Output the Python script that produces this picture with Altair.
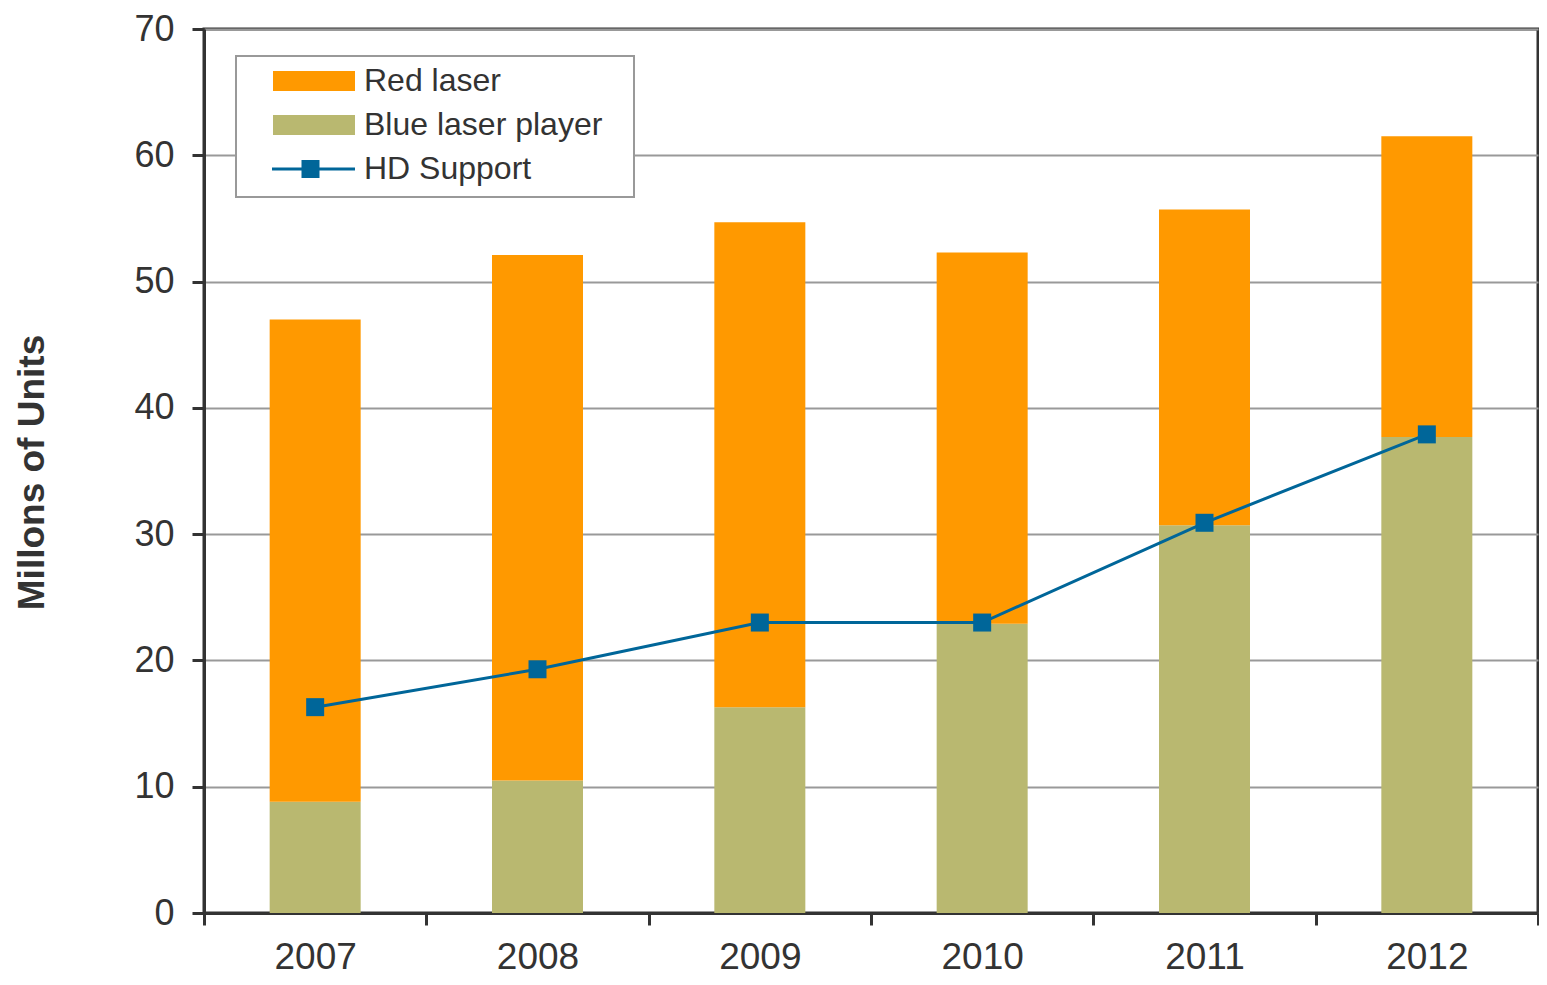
import altair as alt
import pandas as pd

years = ["2007", "2008", "2009", "2010", "2011", "2012"]
blue_laser = [8.8, 10.5, 16.3, 22.9, 30.7, 37.7]
red_laser = [38.2, 41.6, 38.4, 29.4, 25.0, 23.8]
hd_support = [16.3, 19.3, 23.0, 23.0, 30.9, 37.9]
series_names = ["Red laser", "Blue laser player", "HD Support"]
series_colors = ["#FF9900", "#B9B870", "#006699"]
y_ticks = [0, 10, 20, 30, 40, 50, 60, 70]

bars_df = pd.DataFrame({
    "year": years * 2,
    "series": ["Blue laser player"] * len(years) + ["Red laser"] * len(years),
    "value": blue_laser + red_laser,
    "stack_order": [0] * len(years) + [1] * len(years),
})
hd_df = pd.DataFrame({"year": years, "series": ["HD Support"] * len(years), "value": hd_support})
legend_df = pd.DataFrame({"series": series_names})

# legend symbol paths (unit = sqrt(symbolSize)/2 px); lone move-to points only widen the legend box
path_red = "M0.48,-0.4H3.76V0.4H0.48ZM14.92,0"
path_blue = "M0.48,-0.4H3.76V0.4H0.48Z"
path_hd = "M0.44,-0.06H3.76V0.06H0.44ZM1.62,-0.36H2.34V0.36H1.62ZM0,1.12"

color_scale = alt.Scale(domain=series_names, range=series_colors)
shape_scale = alt.Scale(domain=series_names, range=[path_red, path_blue, path_hd])

PLOT_H = 884

x_enc = alt.X(
    "year:O",
    scale=alt.Scale(paddingInner=0, paddingOuter=0),
    axis=alt.Axis(tickBand="extent", tickSize=12, labelPadding=14, labelAngle=0,
                  grid=False, title=None),
)
y_axis = alt.Axis(
    values=y_ticks, grid=True, gridColor="#999999", gridWidth=2, tickSize=12,
    labelPadding=18, labelFontSize=36, title="Millons of Units", titleX=-161,
    titleY=PLOT_H / 2 + 1, titleAngle=270, titleAlign="center",
    titleBaseline="alphabetic", titleFontSize=37, titleFontWeight="bold",
    titleColor="#333333",
)
y_scale = alt.Scale(domain=[0, 70], nice=False)

bars = alt.Chart(bars_df).mark_bar(size=91).encode(
    x=x_enc,
    y=alt.Y("value:Q", scale=y_scale, axis=y_axis, stack="zero"),
    color=alt.Color("series:N", scale=color_scale, legend=None),
    order=alt.Order("stack_order:Q"),
)

line = alt.Chart(hd_df).mark_line(strokeWidth=3).encode(
    x=x_enc,
    y=alt.Y("value:Q", scale=y_scale, axis=y_axis),
    color=alt.Color("series:N", scale=color_scale, legend=None),
)

points = alt.Chart(hd_df).mark_point(shape="square", filled=True, size=324, opacity=1).encode(
    x=x_enc,
    y=alt.Y("value:Q", scale=y_scale, axis=y_axis),
    color=alt.Color("series:N", scale=color_scale, legend=None),
)

legend = alt.Legend(
    orient="none", legendX=32, legendY=27, title=None, padding=0, rowPadding=3,
    labelFont="Liberation Sans", labelFontSize=32, labelColor="#333333",
    labelOffset=78, labelLimit=500, symbolSize=2500, symbolStrokeWidth=0,
    symbolOpacity=1, strokeColor="#999999", fillColor="white",
)

legend_layer = alt.Chart(legend_df).transform_filter("false").mark_point(
    filled=True, opacity=1, size=2500
).encode(
    color=alt.Color("series:N", scale=color_scale, legend=legend),
    shape=alt.Shape("series:N", scale=shape_scale, legend=legend),
)

chart = alt.layer(bars, line, points, legend_layer).resolve_scale(
    color="independent", shape="independent"
).properties(
    width=1334, height=PLOT_H,
    autosize=alt.AutoSizeParams(type="none"),
    padding={"left": 196, "top": 21, "right": 1, "bottom": 64},
).configure(
    font="Liberation Sans",
).configure_view(
    stroke="#333333", strokeWidth=3,
).configure_axis(
    domainColor="#333333", domainWidth=3, tickColor="#333333", tickWidth=3,
    labelColor="#333333", labelFont="Liberation Sans", labelFontSize=37,
    titleFont="Liberation Sans",
).configure_legend(
    strokeWidth=2,
)

chart.save("out.html", embed_options={"renderer": "svg", "actions": False})
